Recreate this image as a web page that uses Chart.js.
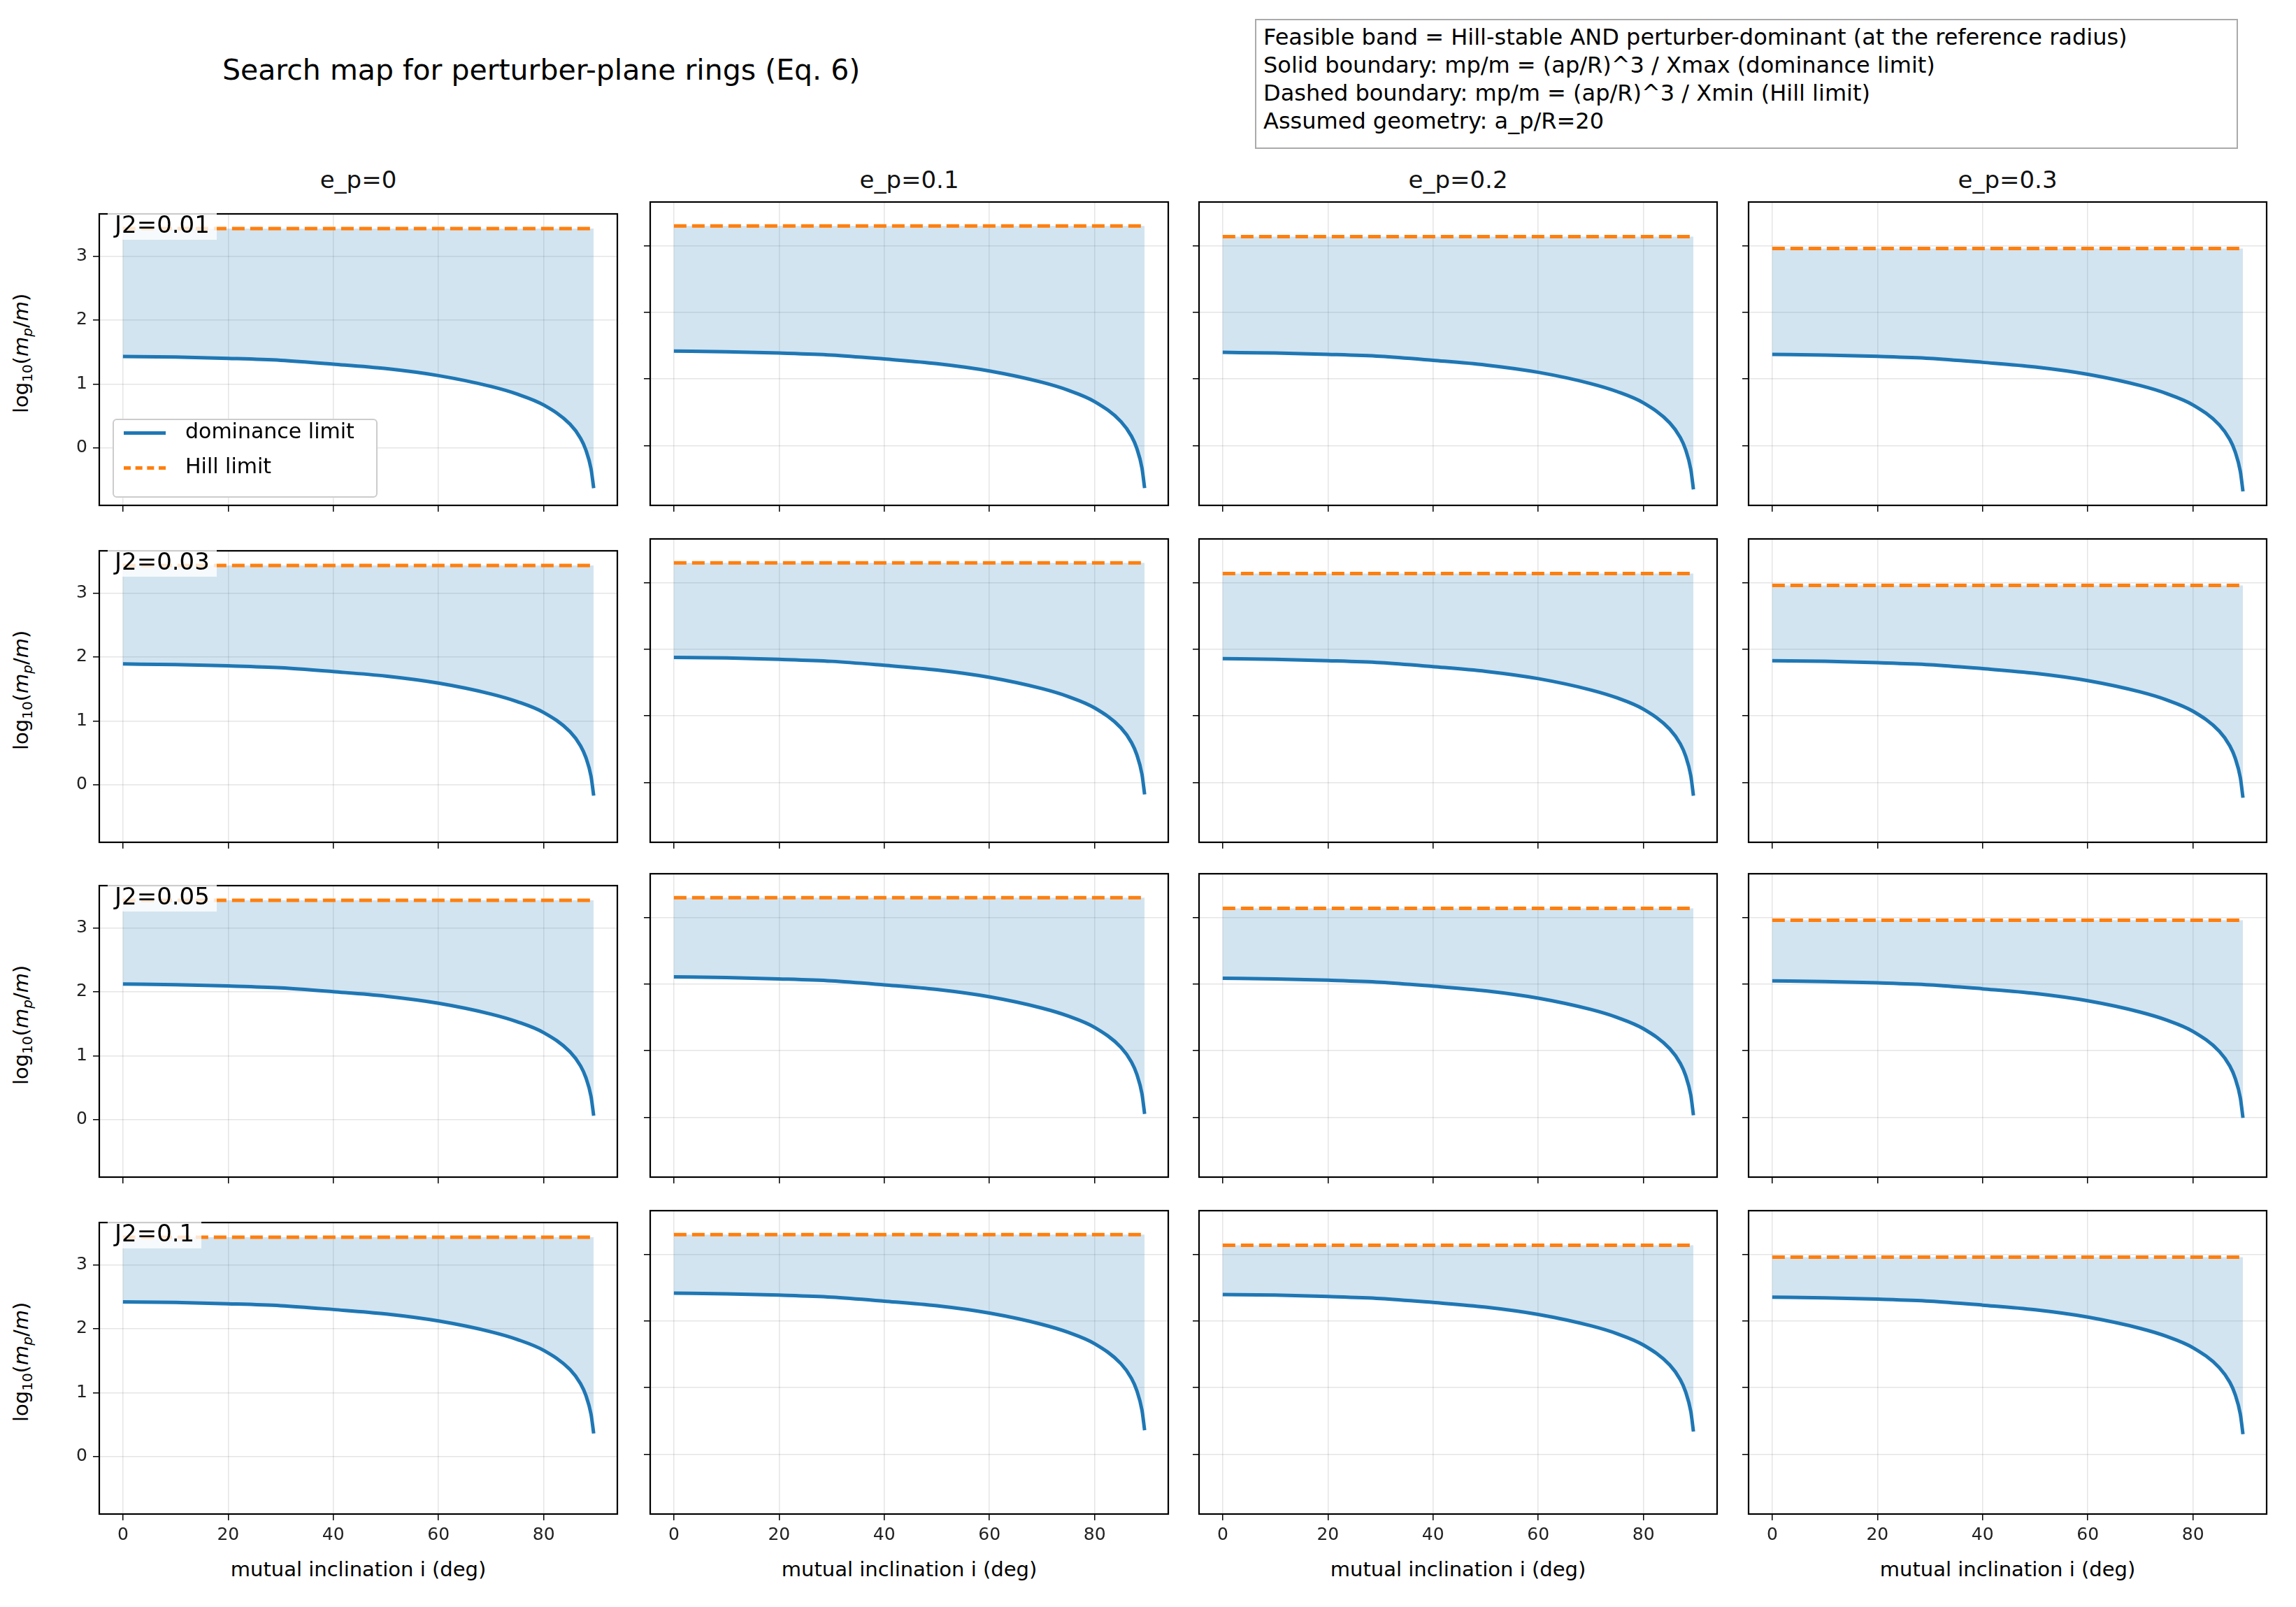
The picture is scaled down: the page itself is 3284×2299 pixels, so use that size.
<!DOCTYPE html>
<html><head><meta charset="utf-8">
<script src="https://cdn.jsdelivr.net/npm/chart.js@4"></script>
<style>
body{margin:0;background:#fff;width:3284px;height:2299px;position:relative;font-family:"DejaVu Sans",sans-serif;overflow:hidden}
.abs{position:absolute}
.ct{position:absolute;font-size:34px;color:#111;text-align:center}
.yl{position:absolute;font-size:29px;transform:rotate(-90deg);transform-origin:center;white-space:nowrap;width:400px;text-align:center}
.xl{position:absolute;font-size:29px;width:741px;text-align:center}
.j2{position:absolute;font-size:34px;background:rgba(255,255,255,0.8);padding:2px 10px;z-index:5}
</style></head><body>
<div class="abs" style="left:318px;top:76px;font-size:41px">Search map for perturber-plane rings (Eq. 6)</div>
<div class="abs" style="left:1795px;top:27px;width:1380px;height:172px;border:2px solid #aaa;padding:4px 10px;font-size:32px;line-height:40px;box-sizing:border-box;width:1406px;height:186px">Feasible band = Hill-stable AND perturber-dominant (at the reference radius)<br>Solid boundary: mp/m = (ap/R)^3 / Xmax  (dominance limit)<br>Dashed boundary: mp/m = (ap/R)^3 / Xmin  (Hill limit)<br>Assumed geometry: a_p/R=20</div>
<div class="abs" style="left:161px;top:599px;width:375px;height:109px;border:2px solid #ccc;border-radius:6px;background:#fff;z-index:6;font-size:30px">
<div style="position:absolute;left:14px;top:16px;width:60px;border-top:5px solid #1f77b4"></div><div style="position:absolute;left:102px;top:-2px">dominance limit</div>
<div style="position:absolute;left:14px;top:66px;width:60px;border-top:5px dashed #ff7f0e"></div><div style="position:absolute;left:102px;top:48px">Hill limit</div>
</div>
<script>
const colTitles=["e_p=0","e_p=0.1","e_p=0.2","e_p=0.3"];
const rowLabels=["J2=0.01","J2=0.03","J2=0.05","J2=0.1"];
const incl=[0,10,20,30,40,50,60,70,75,80,85,87,88,89,89.5];
const xTicks=[0,20,40,60,80];
const yTicks=[0,1,2,3];
const hill=[3.43,3.30,3.14,2.96];
const dom_r1c1=[1.43,1.42,1.40,1.37,1.31,1.24,1.13,0.96,0.84,0.67,0.37,0.15,-0.03,-0.33,-0.63];
const dom_r1c2=[1.42,1.41,1.39,1.36,1.30,1.23,1.12,0.95,0.83,0.66,0.36,0.14,-0.04,-0.34,-0.64];
const dom_r1c3=[1.40,1.39,1.37,1.34,1.28,1.21,1.10,0.93,0.81,0.64,0.34,0.12,-0.06,-0.36,-0.66];
const dom_r1c4=[1.37,1.36,1.34,1.31,1.25,1.18,1.07,0.90,0.78,0.61,0.31,0.09,-0.09,-0.39,-0.69];
const dom_r2c1=[1.89,1.88,1.86,1.83,1.77,1.70,1.59,1.42,1.30,1.13,0.83,0.61,0.43,0.13,-0.17];
const dom_r2c2=[1.88,1.87,1.85,1.82,1.76,1.69,1.58,1.41,1.29,1.12,0.82,0.60,0.42,0.12,-0.18];
const dom_r2c3=[1.86,1.85,1.83,1.80,1.74,1.67,1.56,1.39,1.27,1.10,0.80,0.58,0.40,0.10,-0.20];
const dom_r2c4=[1.83,1.82,1.80,1.77,1.71,1.64,1.53,1.36,1.24,1.07,0.77,0.55,0.37,0.07,-0.23];
const dom_r3c1=[2.12,2.11,2.09,2.06,2.00,1.93,1.82,1.65,1.53,1.36,1.06,0.84,0.66,0.36,0.06];
const dom_r3c2=[2.11,2.10,2.08,2.05,1.99,1.92,1.81,1.64,1.52,1.35,1.05,0.83,0.65,0.35,0.05];
const dom_r3c3=[2.09,2.08,2.06,2.03,1.97,1.90,1.79,1.62,1.50,1.33,1.03,0.81,0.63,0.33,0.03];
const dom_r3c4=[2.05,2.04,2.02,1.99,1.93,1.86,1.75,1.58,1.46,1.29,0.99,0.77,0.59,0.29,-0.01];
const dom_r4c1=[2.42,2.41,2.39,2.36,2.30,2.23,2.12,1.95,1.83,1.66,1.36,1.14,0.96,0.66,0.36];
const dom_r4c2=[2.42,2.41,2.39,2.36,2.30,2.23,2.12,1.95,1.83,1.66,1.36,1.14,0.96,0.66,0.36];
const dom_r4c3=[2.40,2.39,2.37,2.34,2.28,2.21,2.10,1.93,1.81,1.64,1.34,1.12,0.94,0.64,0.34];
const dom_r4c4=[2.36,2.35,2.33,2.30,2.24,2.17,2.06,1.89,1.77,1.60,1.30,1.08,0.90,0.60,0.30];
const dom=[[dom_r1c1,dom_r1c2,dom_r1c3,dom_r1c4],[dom_r2c1,dom_r2c2,dom_r2c3,dom_r2c4],[dom_r3c1,dom_r3c2,dom_r3c3,dom_r3c4],[dom_r4c1,dom_r4c2,dom_r4c3,dom_r4c4]];

const colL=[142,930,1715,2501], rowT=[289,771,1250,1732], PW=741, PH=434;
const YW=90, XH=70, PAD=6;
const frame={id:'frame',afterDraw(c){const a=c.chartArea,x=c.ctx;x.save();x.strokeStyle='#000';x.lineWidth=2.2;x.strokeRect(a.left,a.top,a.right-a.left,a.bottom-a.top);x.restore();}};
function add(html){document.body.insertAdjacentHTML('beforeend',html);}
for(let c=0;c<4;c++) add(`<div class="ct" style="left:${colL[c]}px;top:${rowT[0]-52}px;width:${PW}px">${colTitles[c]}</div>`);
for(let r=0;r<4;r++){
  add(`<div class="yl" style="left:${colL[0]-110-200}px;top:${rowT[r]+PH/2-20}px">log<sub style="font-size:20px">10</sub>(<i>m</i><sub style="font-size:20px"><i>p</i></sub>/<i>m</i>)</div>`);
  add(`<div class="j2" style="left:${colL[0]+12}px;top:${rowT[r]+10}px">${rowLabels[r]}</div>`);
}
for(let c=0;c<4;c++) add(`<div class="xl" style="left:${colL[c]}px;top:${rowT[3]+PH+62}px">mutual inclination i (deg)</div>`);
for(let r=0;r<4;r++)for(let c=0;c<4;c++){
  const d=document.createElement('div');
  d.style.cssText=`position:absolute;left:${colL[c]-YW}px;top:${rowT[r]-PAD}px;width:${PW+YW+PAD}px;height:${PH+XH+PAD}px`;
  const cv=document.createElement('canvas');d.appendChild(cv);document.body.appendChild(d);
  const vals=dom[r][c];
  const domPts=incl.map((x,i)=>({x,y:vals[i]}));
  const hillPts=incl.map(x=>({x,y:hill[c]}));
  new Chart(cv,{type:'line',plugins:[frame],
    data:{datasets:[
      {data:domPts,borderColor:'#1f77b4',borderWidth:5,pointRadius:0,cubicInterpolationMode:'monotone',fill:false,order:1},
      {data:hillPts,borderColor:'#ff7f0e',borderWidth:5,borderDash:[18,8],pointRadius:0,fill:{target:0},backgroundColor:'rgba(31,119,180,0.2)',order:2}
    ]},
    options:{responsive:true,maintainAspectRatio:false,animation:false,
      layout:{padding:{top:PAD,right:PAD,left:0,bottom:0}},
      plugins:{legend:{display:false},tooltip:{enabled:false}},
      scales:{
        x:{type:'linear',min:-4.5,max:94,afterBuildTicks:s=>{s.ticks=xTicks.map(v=>({value:v}))},afterFit:s=>{s.height=XH},
          grid:{color:'rgba(0,0,0,0.1)',tickColor:'#000',tickLength:9,lineWidth:1.5},border:{display:false},
          ticks:{display:r===3,color:'#222',font:{size:25,family:'DejaVu Sans'},padding:6,maxRotation:0}},
        y:{type:'linear',min:-0.9,max:3.66,afterBuildTicks:s=>{s.ticks=yTicks.map(v=>({value:v}))},afterFit:s=>{s.width=YW},
          grid:{color:'rgba(0,0,0,0.1)',tickColor:'#000',tickLength:9,lineWidth:1.5},border:{display:false},
          ticks:{display:c===0,color:'#222',font:{size:25,family:'DejaVu Sans'},padding:8}}
      }}});
}
</script></body></html>
